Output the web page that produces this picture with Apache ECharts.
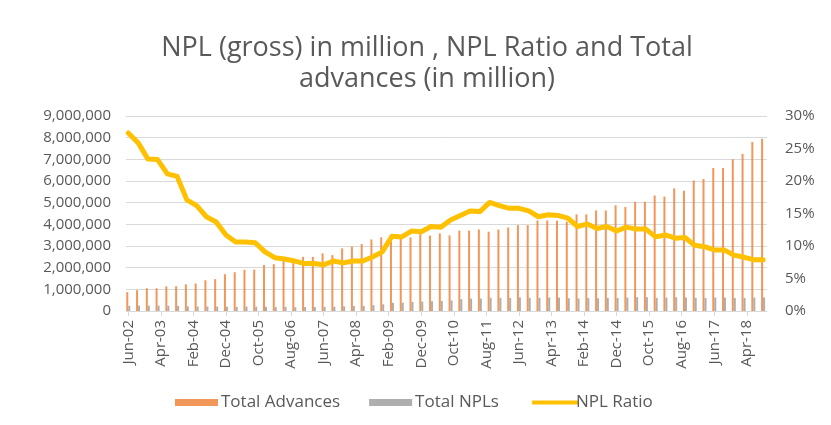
<!DOCTYPE html>
<html>
<head>
<meta charset="utf-8">
<script src="https://cdn.jsdelivr.net/npm/echarts@6/dist/echarts.min.js"></script>
<style>html,body{margin:0;padding:0;background:#fff}#c{width:831px;height:425px}</style>
</head>
<body>
<div id="c"></div>
<script>
// Quarterly periods (categories)
var quarters = [
 'Jun-02','Sep-02','Dec-02','Mar-03','Jun-03','Sep-03','Dec-03','Mar-04','Jun-04','Sep-04','Dec-04',
 'Mar-05','Jun-05','Sep-05','Dec-05','Mar-06','Jun-06','Sep-06','Dec-06','Mar-07','Jun-07','Sep-07','Dec-07',
 'Mar-08','Jun-08','Sep-08','Dec-08','Mar-09','Jun-09','Sep-09','Dec-09','Mar-10','Jun-10','Sep-10','Dec-10',
 'Mar-11','Jun-11','Sep-11','Dec-11','Mar-12','Jun-12','Sep-12','Dec-12','Mar-13','Jun-13','Sep-13','Dec-13',
 'Mar-14','Jun-14','Sep-14','Dec-14','Mar-15','Jun-15','Sep-15','Dec-15','Mar-16','Jun-16','Sep-16','Dec-16',
 'Mar-17','Jun-17','Sep-17','Dec-17','Mar-18','Jun-18','Sep-18'
];
// Total advances
var totalAdvances = [
 870000,960000,1050000,1050000,1140000,1140000,1230000,1270000,1420000,1470000,1700000,
 1790000,1900000,1910000,2120000,2160000,2330000,2260000,2500000,2500000,2660000,2580000,2890000,
 2970000,3090000,3300000,3400000,3300000,3360000,3400000,3570000,3480000,3580000,3490000,3710000,
 3710000,3760000,3660000,3760000,3850000,3960000,3960000,4180000,4180000,4170000,4120000,4460000,
 4460000,4640000,4640000,4880000,4800000,5040000,5040000,5330000,5280000,5660000,5550000,6020000,
 6090000,6600000,6600000,7000000,7250000,7800000,7950000
];
// Total NPLs
var totalNPLs = [
 240000,250000,245000,245000,240000,236000,210000,206000,206000,201000,199000,
 190000,201000,201000,193000,177000,186000,174000,183000,183000,189000,199000,214000,
 229000,238000,274000,309000,380000,383000,418000,436000,452000,462000,489000,545000,
 571000,575000,611000,609000,608000,626000,610000,606000,619000,613000,589000,580000,
 598000,589000,603000,600000,619000,635000,635000,608000,618000,634000,627000,608000,
 603000,620000,620000,602000,602000,616000,628000
];
// NPL ratio (%)
var nplRatio = [
 27.4,25.9,23.4,23.3,21.1,20.7,17.1,16.2,14.5,13.7,11.7,
 10.6,10.6,10.5,9.1,8.2,8.0,7.7,7.3,7.3,7.1,7.7,7.4,
 7.7,7.7,8.3,9.1,11.5,11.4,12.3,12.2,13.0,12.9,14.0,14.7,
 15.4,15.3,16.7,16.2,15.8,15.8,15.4,14.5,14.8,14.7,14.3,13.0,
 13.4,12.7,13.0,12.3,12.9,12.6,12.6,11.4,11.7,11.2,11.3,10.1,
 9.9,9.4,9.4,8.6,8.3,7.9,7.9
];
// X-axis tick labels
var tickLabels = ['Jun-02','Apr-03','Feb-04','Dec-04','Oct-05','Aug-06','Jun-07','Apr-08','Feb-09','Dec-09',
 'Oct-10','Aug-11','Jun-12','Apr-13','Feb-14','Dec-14','Oct-15','Aug-16','Jun-17','Apr-18'];

var MONTHS = ['Jan','Feb','Mar','Apr','May','Jun','Jul','Aug','Sep','Oct','Nov','Dec'];
function monthIdx(lbl){
  var p = lbl.split('-');
  return (2000 + parseInt(p[1],10) - 2002) * 12 + MONTHS.indexOf(p[0]) - 5;
}
function idxLabel(m){
  var t = Math.round(m) + 5;
  var y = 2002 + Math.floor(t / 12);
  var mo = ((t % 12) + 12) % 12;
  return MONTHS[mo] + '-' + String(y % 100).padStart(2,'0');
}
var tickVals = tickLabels.map(monthIdx);
var advData = quarters.map(function(q,i){return [monthIdx(q), totalAdvances[i]];});
var nplData = quarters.map(function(q,i){return [monthIdx(q), totalNPLs[i]];});
var ratioData = quarters.map(function(q,i){return [monthIdx(q), nplRatio[i]];});

var FONT = 'Open Sans';
var TXT = '#595959';
var chart = echarts.init(document.getElementById('c'), null, {renderer:'canvas'});
chart.setOption({
  animation:false,
  backgroundColor:'#fff',
  textStyle:{fontFamily:FONT},
  title:{
    text:'NPL (gross) in million , NPL Ratio and Total\nadvances (in million)',
    left:422, top:28, textAlign:'center',
    textStyle:{fontFamily:FONT, fontSize:27, fontWeight:'normal', color:TXT, lineHeight:31}
  },
  legend:[
    {
      top:389, left:170,
      itemWidth:43, itemHeight:7, itemGap:29,
      textStyle:{fontFamily:FONT, fontSize:17, color:TXT, padding:[0,0,0,-2]},
      data:[
        {name:'Total Advances', icon:'rect'},
        {name:'Total NPLs', icon:'rect'}
      ]
    },
    {
      top:389, left:527,
      itemWidth:46, itemHeight:4,
      textStyle:{fontFamily:FONT, fontSize:17, color:TXT, padding:[0,0,0,-7]},
      data:[{name:'NPL Ratio', icon:'roundRect'}]
    }
  ],
  grid:{left:126, right:64, top:116, bottom:114, containLabel:false},
  xAxis:{
    type:'value', min:-0.7, max:196.2,
    axisLine:{show:true, lineStyle:{color:'#D9D9D9', width:1}},
    axisTick:{show:true, length:5, lineStyle:{color:'#D9D9D9'}, customValues:tickVals},
    splitLine:{show:false},
    axisLabel:{
      customValues:tickVals,
      rotate:90, color:TXT, fontFamily:FONT, fontSize:15, margin:9,
      formatter:function(v){return idxLabel(v);}
    }
  },
  yAxis:[
    {
      type:'value', min:0, max:9000000, interval:1000000,
      axisLine:{show:false}, axisTick:{show:false},
      splitLine:{lineStyle:{color:'#D9D9D9', width:1}},
      axisLabel:{color:TXT, fontFamily:FONT, fontSize:15, margin:15,
        formatter:function(v){return v.toLocaleString('en-US');}}
    },
    {
      type:'value', min:0, max:30, interval:5, position:'right',
      axisLine:{show:false}, axisTick:{show:false}, splitLine:{show:false},
      axisLabel:{color:TXT, fontFamily:FONT, fontSize:15, margin:18,
        formatter:function(v){return v + '%';}}
    }
  ],
  series:[
    {name:'Total Advances', type:'bar', yAxisIndex:0, data:advData, barWidth:2, barGap:'0%',
     itemStyle:{color:'#ED7D31', opacity:0.8}},
    {name:'Total NPLs', type:'bar', yAxisIndex:0, data:nplData, barWidth:2, barGap:'0%',
     itemStyle:{color:'#A5A5A5', opacity:0.9}},
    {name:'NPL Ratio', type:'line', yAxisIndex:1, data:ratioData, symbol:'none', showSymbol:false,
     lineStyle:{color:'#FFC000', width:5, cap:'round', join:'round'}, itemStyle:{color:'#FFC000'}, z:5}
  ]
});
</script>
</body>
</html>
